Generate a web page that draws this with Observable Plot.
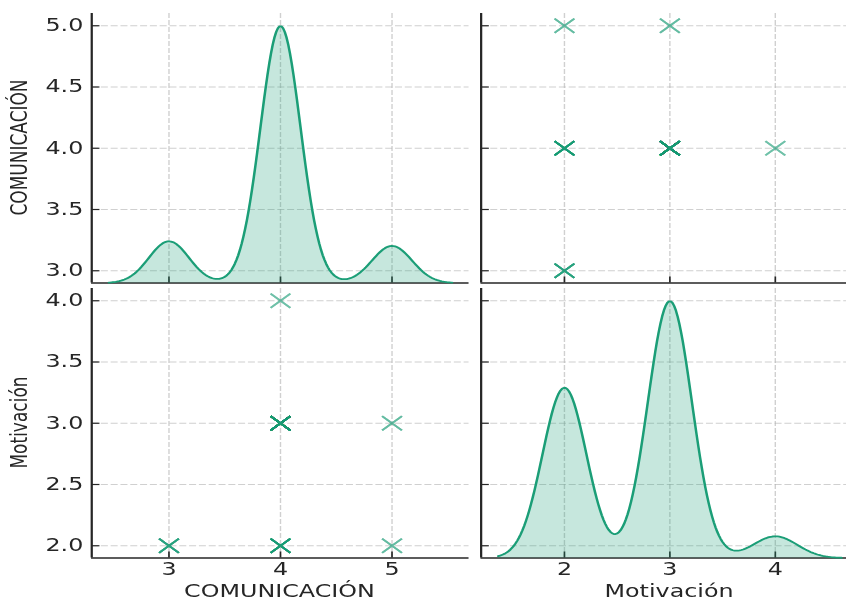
<!DOCTYPE html>
<html>
<head>
<meta charset="utf-8">
<script src="https://cdn.jsdelivr.net/npm/d3@7"></script>
<script src="https://cdn.jsdelivr.net/npm/@observablehq/plot@0.6"></script>
<style>
  body { margin: 0; background: #fff; }
  #fig { position: relative; width: 846px; height: 604px; overflow: hidden; background: #fff; }
  /* the figure is laid out on a square canvas and widened to the page */
  #inner { position: absolute; left: 0; top: 0; width: 604px; height: 604px;
           transform: scaleX(1.4007); transform-origin: 0 0; }
  #inner svg { position: absolute; overflow: visible; }
</style>
</head>
<body>
<div id="fig"><div id="inner"></div></div>
<script>
// Paired survey answers: COMUNICACIÓN score, Motivación score, respondents with that pair
const comunicacion = [3, 5, 5, 4, 4, 4];
const motivacion   = [2, 2, 3, 2, 3, 4];
const respondents  = [18, 8, 8, 29, 75, 7];

// Axis ticks
const comTicks = [3, 4, 5];
const motTicks = [2, 3, 4];
const comTicksY = [3.0, 3.5, 4.0, 4.5, 5.0];
const motTicksY = [2.0, 2.5, 3.0, 3.5, 4.0];

const COLOR = "#1b9e77";
const INK = "#262626";
const FONT = "DejaVu Sans";
const SIZE = 269.5;          // side of each panel
const COL = [64.8, 342.9];   // panel left edges
const ROW = [12.75, 287.75]; // panel top edges

// one row per respondent
const obs = comunicacion.flatMap((c, i) =>
  d3.range(respondents[i]).map(() => ({C: c, M: motivacion[i]})));

// Gaussian KDE with Scott's bandwidth, evaluated on 200 points over min-3bw .. max+3bw
function kde(values) {
  const bw = d3.deviation(values) * Math.pow(values.length, -0.2);
  const lo = d3.min(values) - 3 * bw, hi = d3.max(values) + 3 * bw;
  const norm = 1 / (values.length * bw * Math.sqrt(2 * Math.PI));
  const curve = d3.range(200).map(i => {
    const x = lo + (hi - lo) * i / 199;
    return {x, density: norm * d3.sum(values, v => Math.exp(-0.5 * ((x - v) / bw) ** 2))};
  });
  return {curve, lo, hi};
}
const pad = (lo, hi) => { const d = (hi - lo) * 0.05; return [lo - d, hi + d]; };

const comKde = kde(obs.map(d => d.C));
const motKde = kde(obs.map(d => d.M));
const comX = pad(comKde.lo, comKde.hi);
const motX = pad(motKde.lo, motKde.hi);
const comY = pad(d3.min(obs, d => d.C), d3.max(obs, d => d.C));
const motY = pad(d3.min(obs, d => d.M), d3.max(obs, d => d.M));

const inner = document.getElementById("inner");

function panel({col, row, xDomain, yDomain, xTicks = [], yTicks = [], xLabels = false, yLabels = false,
                axes = true, marks = []}) {
  const all = [];
  if (axes) all.push(
    Plot.gridX({ticks: xTicks, stroke: "#b0b0b0", strokeOpacity: 0.6, strokeDasharray: "5,2"}),
    Plot.gridY({ticks: yTicks, stroke: "#b0b0b0", strokeOpacity: 0.6, strokeDasharray: "5,2"}));
  all.push(...marks);
  if (axes) all.push(
    Plot.tickY(yTicks, {y: d => d, insetRight: SIZE - 6, stroke: INK, strokeWidth: 1.2}),
    Plot.tickX(xTicks, {x: d => d, insetTop: SIZE - 6, stroke: INK, strokeWidth: 1.2}),
    Plot.ruleX([xDomain[0]], {stroke: INK, strokeWidth: 1.6}),
    Plot.ruleY([yDomain[0]], {stroke: INK, strokeWidth: 1.6}));
  if (yLabels) all.push(Plot.axisY({ticks: yTicks, tickSize: 0, tickPadding: 6,
    tickFormat: d3.format(".1f"), label: null, fontSize: 17}));
  if (xLabels) all.push(Plot.axisX({ticks: xTicks, tickSize: 0, tickPadding: 5,
    tickFormat: d3.format("d"), label: null, fontSize: 17}));
  const svg = Plot.plot({
    width: SIZE, height: SIZE, margin: 0,
    style: {fontFamily: FONT, fontSize: "17px", color: INK, background: "transparent", overflow: "visible"},
    x: {domain: xDomain, axis: null},
    y: {domain: yDomain, axis: null},
    marks: all
  });
  svg.style.left = COL[col] + "px";
  svg.style.top = ROW[row] + "px";
  svg.style.width = SIZE + "px";
  svg.style.height = SIZE + "px";
  svg.style.maxWidth = "none";
  inner.appendChild(svg);
}

const density = (k) => [
  Plot.areaY(k.curve, {x: "x", y: "density", fill: COLOR, fillOpacity: 0.25}),
  Plot.lineY(k.curve, {x: "x", y: "density", stroke: COLOR, strokeWidth: 1.8})
];
const scatter = (x, y) => [
  Plot.dot(obs, {x, y, symbol: "times", r: 6.5, stroke: COLOR, strokeOpacity: 0.13, strokeWidth: 1.6})
];

// top-left: row/column frame of COMUNICACIÓN, then its density on its own vertical scale
panel({col: 0, row: 0, xDomain: comX, yDomain: comY, xTicks: comTicks, yTicks: comTicksY, yLabels: true});
panel({col: 0, row: 0, xDomain: comX, yDomain: [0, 1.05 * d3.max(comKde.curve, d => d.density)],
  axes: false, marks: density(comKde)});
// top-right: Motivación vs COMUNICACIÓN
panel({col: 1, row: 0, xDomain: motX, yDomain: comY, xTicks: motTicks, yTicks: comTicksY,
  marks: scatter("M", "C")});
// bottom-left: COMUNICACIÓN vs Motivación
panel({col: 0, row: 1, xDomain: comX, yDomain: motY, xTicks: comTicks, yTicks: motTicksY,
  xLabels: true, yLabels: true, marks: scatter("C", "M")});
// bottom-right: frame of Motivación, then its density
panel({col: 1, row: 1, xDomain: motX, yDomain: motY, xTicks: motTicks, yTicks: motTicksY, xLabels: true});
panel({col: 1, row: 1, xDomain: motX, yDomain: [0, 1.05 * d3.max(motKde.curve, d => d.density)],
  axes: false, marks: density(motKde)});

// axis titles
const lab = d3.select(inner).append("svg")
  .attr("width", 604).attr("height", 604)
  .style("left", "0px").style("top", "0px")
  .attr("font-family", FONT).attr("font-size", 17).attr("fill", INK)
  .attr("text-anchor", "middle");
const ylab = [["COMUNICACIÓN", ROW[0] + SIZE / 2], ["Motivación", ROW[1] + SIZE / 2]];
ylab.forEach(([t, y]) => lab.append("text")
  .attr("transform", `translate(19,${y}) rotate(-90)`).text(t));
const xlab = [["COMUNICACIÓN", COL[0] + SIZE / 2], ["Motivación", COL[1] + SIZE / 2]];
xlab.forEach(([t, x]) => lab.append("text").attr("x", x).attr("y", 597).text(t));
</script>
</body>
</html>
